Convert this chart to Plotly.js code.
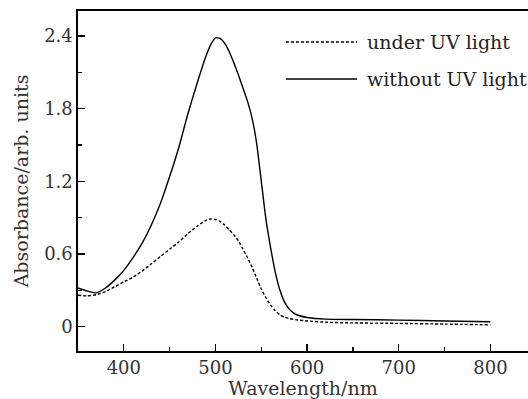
<!DOCTYPE html>
<html>
<head>
<meta charset="utf-8">
<script src="https://cdn.plot.ly/plotly-3.0.1.min.js"></script>
<style>html,body{margin:0;padding:0;background:#fff;}#chart{width:528px;height:399px;}</style>
</head>
<body>
<div id="chart"></div>
<script>
// Data
const wlWithout = [350,360,370,380,390,400,410,420,430,440,450,460,470,480,490,495,500,505,510,515,520,525,530,535,540,545,550,555,560,565,570,575,580,585,590,600,620,650,700,750,800];
const absWithout = [0.32,0.295,0.28,0.32,0.385,0.465,0.57,0.69,0.84,1.02,1.24,1.48,1.76,2.01,2.24,2.33,2.385,2.38,2.34,2.27,2.18,2.08,1.97,1.86,1.72,1.51,1.20,0.89,0.66,0.46,0.31,0.21,0.15,0.115,0.095,0.077,0.063,0.060,0.055,0.048,0.041];
const wlUnder = [350,360,370,380,390,400,410,420,430,440,450,460,470,480,490,495,500,505,510,515,520,525,530,535,540,545,550,555,560,565,570,575,580,590,600,625,650,700,750,800];
const absUnder = [0.26,0.255,0.265,0.29,0.33,0.37,0.41,0.46,0.52,0.58,0.64,0.70,0.77,0.83,0.88,0.89,0.885,0.87,0.84,0.80,0.76,0.71,0.64,0.57,0.49,0.40,0.31,0.24,0.18,0.135,0.10,0.08,0.068,0.056,0.048,0.036,0.032,0.028,0.022,0.016];
const seriesNames = ["under UV light","without UV light"];
const xTickVals = [400,500,600,700,800];
const yTickVals = [0,0.6,1.2,1.8,2.4];

const FONT = "DejaVu Serif";

const traces = [
  {x: wlUnder, y: absUnder, mode: "lines", name: seriesNames[0], showlegend: false,
   line: {color: "#000", width: 1.4, dash: "3px,2px", shape: "spline", smoothing: 0.5}},
  {x: wlWithout, y: absWithout, mode: "lines", name: seriesNames[1], showlegend: false,
   line: {color: "#000", width: 1.4, shape: "spline", smoothing: 0.5}}
];

// legend drawn manually (paper coordinates)
const legY = [0.909, 0.800];
const legDash = ["3px,2px", "solid"];
const shapes = legY.map((y, i) => ({
  type: "line", xref: "paper", yref: "paper", x0: 0.462, x1: 0.62, y0: y, y1: y,
  line: {color: "#000", width: 1.4, dash: legDash[i]}
}));
const annotations = legY.map((y, i) => ({
  xref: "paper", yref: "paper", x: 0.638, y: y, xanchor: "left", yanchor: "middle",
  text: seriesNames[i], showarrow: false, font: {family: FONT, size: 19, color: "#222"}
}));

const layout = {
  width: 528, height: 399,
  margin: {l: 78, r: 0, t: 11, b: 48, pad: 0},
  paper_bgcolor: "#fff", plot_bgcolor: "#fff",
  showlegend: false,
  font: {family: FONT, color: "#000"},
  xaxis: {
    range: [350, 841], tickvals: xTickVals, ticks: "inside", ticklen: 7, tickwidth: 1.3, tickcolor: "#000",
    minor: {dtick: 50, tick0: 0, ticks: "inside", ticklen: 4, tickwidth: 1.3, tickcolor: "#000"},
    showline: true, linecolor: "#000", linewidth: 1.6, mirror: true,
    showgrid: false, zeroline: false,
    tickfont: {family: FONT, size: 18, color: "#333"},
    title: {text: "Wavelength/nm", font: {family: FONT, size: 19, color: "#333"}, standoff: 4}
  },
  yaxis: {
    range: [-0.2, 2.606], tickvals: yTickVals, ticktext: ["0","0.6","1.2","1.8","2.4"],
    ticks: "inside", ticklen: 7, tickwidth: 1.3, tickcolor: "#000",
    minor: {tickvals: [0.3,0.9,1.5,2.1], ticks: "inside", ticklen: 4, tickwidth: 1.3, tickcolor: "#000"},
    showline: true, linecolor: "#000", linewidth: 1.6, mirror: false,
    showgrid: false, zeroline: false,
    tickfont: {family: FONT, size: 18, color: "#333"},
    title: {text: "Absorbance/arb. units", font: {family: FONT, size: 19, color: "#333"}, standoff: 10}
  },
  shapes: shapes,
  annotations: annotations
};

Plotly.newPlot("chart", traces, layout, {staticPlot: true, displayModeBar: false});
</script>
</body>
</html>
